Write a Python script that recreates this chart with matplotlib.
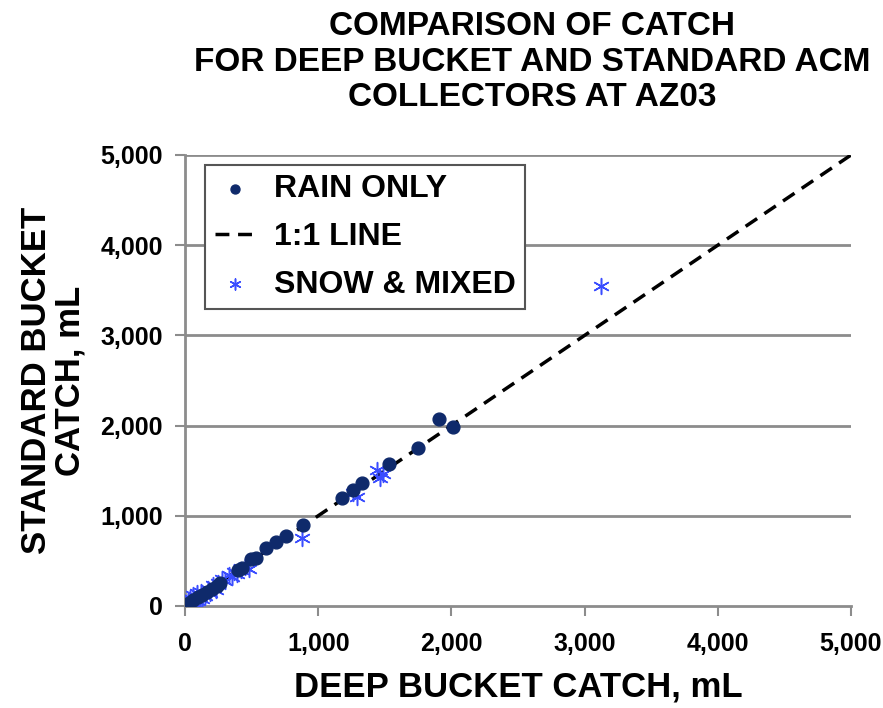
import matplotlib
matplotlib.use("Agg")
import matplotlib.pyplot as plt

# values (mL)
rain_x = [30, 60, 100, 130, 163, 200, 238, 260, 398, 430, 495, 530, 608, 680, 758, 888,
          1178, 1263, 1326, 1533, 1751, 1908, 2013]
rain_y = [35, 66, 95, 125, 159, 190, 222, 250, 399, 420, 518, 530, 640, 706, 776, 898,
          1195, 1286, 1360, 1574, 1755, 2070, 1982]

snow_x = [10, 20, 30, 40, 50, 60, 70, 80, 90, 100, 110, 120, 130, 150, 170, 190, 210, 230,
          250, 280, 300, 330, 350, 370, 390, 420, 450, 480, 875, 1288, 1260, 1438, 1463,
          1490, 3126]
snow_y = [20, 60, 10, 90, 40, 120, 30, 70, 140, 50, 100, 150, 80, 110, 190, 140, 230, 180,
          260, 300, 280, 340, 320, 380, 360, 400, 430, 410, 750, 1212, 1250, 1508, 1416,
          1460, 3548]

line_x = [0, 5000]
ticks = [0, 1000, 2000, 3000, 4000, 5000]
tick_labels = ["0", "1,000", "2,000", "3,000", "4,000", "5,000"]

plt.rcParams['font.family'] = ['Liberation Sans', 'DejaVu Sans']
plt.rcParams['font.weight'] = 'bold'

fig = plt.figure(figsize=(8.83, 7.08), dpi=100)
ax = fig.add_axes([0.2095, 0.1441, 0.7543, 0.637])

ax.set_xlim(0, 5000)
ax.set_ylim(0, 5000)

# horizontal gridlines only
for t in ticks[1:]:
    ax.axhline(t, color="#8c8c8c", lw=2, zorder=1)

ax.plot(line_x, line_x, color="black", lw=2.5, ls=(0, (4, 2.5)), zorder=2, label="1:1 LINE")
ax.scatter(rain_x, rain_y, s=85, color="#0f2a6b", zorder=4, label="RAIN ONLY")
ax.scatter(snow_x, snow_y, s=130, marker=(6, 2, 0), color="#3a4dff", linewidths=1.1,
           zorder=3, label="SNOW & MIXED")

for side in ["top", "right"]:
    ax.spines[side].set_visible(False)
for side in ["left", "bottom"]:
    ax.spines[side].set_color("#8c8c8c")
    ax.spines[side].set_linewidth(2)

ax.set_xticks(ticks)
ax.set_yticks(ticks)
ax.set_xticklabels(tick_labels)
ax.set_yticklabels(tick_labels)
ax.tick_params(direction="out", length=7, width=1.5, color="#8c8c8c",
               labelsize=18, pad=9)
ax.tick_params(axis="x", pad=12)
for lab in ax.get_xticklabels() + ax.get_yticklabels():
    lab.set_fontweight("bold")

ax.set_xlabel("DEEP BUCKET CATCH, mL", fontsize=25, fontweight="bold", labelpad=10)
ax.set_ylabel("STANDARD BUCKET\nCATCH, mL", fontsize=25, fontweight="bold", labelpad=10,
              linespacing=1.0)
ax.set_title("COMPARISON OF CATCH\nFOR DEEP BUCKET AND STANDARD ACM\nCOLLECTORS AT AZ03",
             fontsize=24, fontweight="bold", pad=35, x=0.521, linespacing=1.2)

h, l = ax.get_legend_handles_labels()
order = [1, 0, 2]
leg = ax.legend([h[i] for i in order], [l[i] for i in order], loc="upper left",
                bbox_to_anchor=(0.030, 0.978), borderaxespad=0, fontsize=23,
                frameon=True, fancybox=False, edgecolor="#555555", framealpha=1,
                handlelength=1.3, handletextpad=0.55, borderpad=0.3, labelspacing=0.55,
                markerscale=0.7)
leg.get_frame().set_linewidth(1.5)
for t in leg.get_texts():
    t.set_fontweight("bold")

fig.savefig("out.png", dpi=100)
